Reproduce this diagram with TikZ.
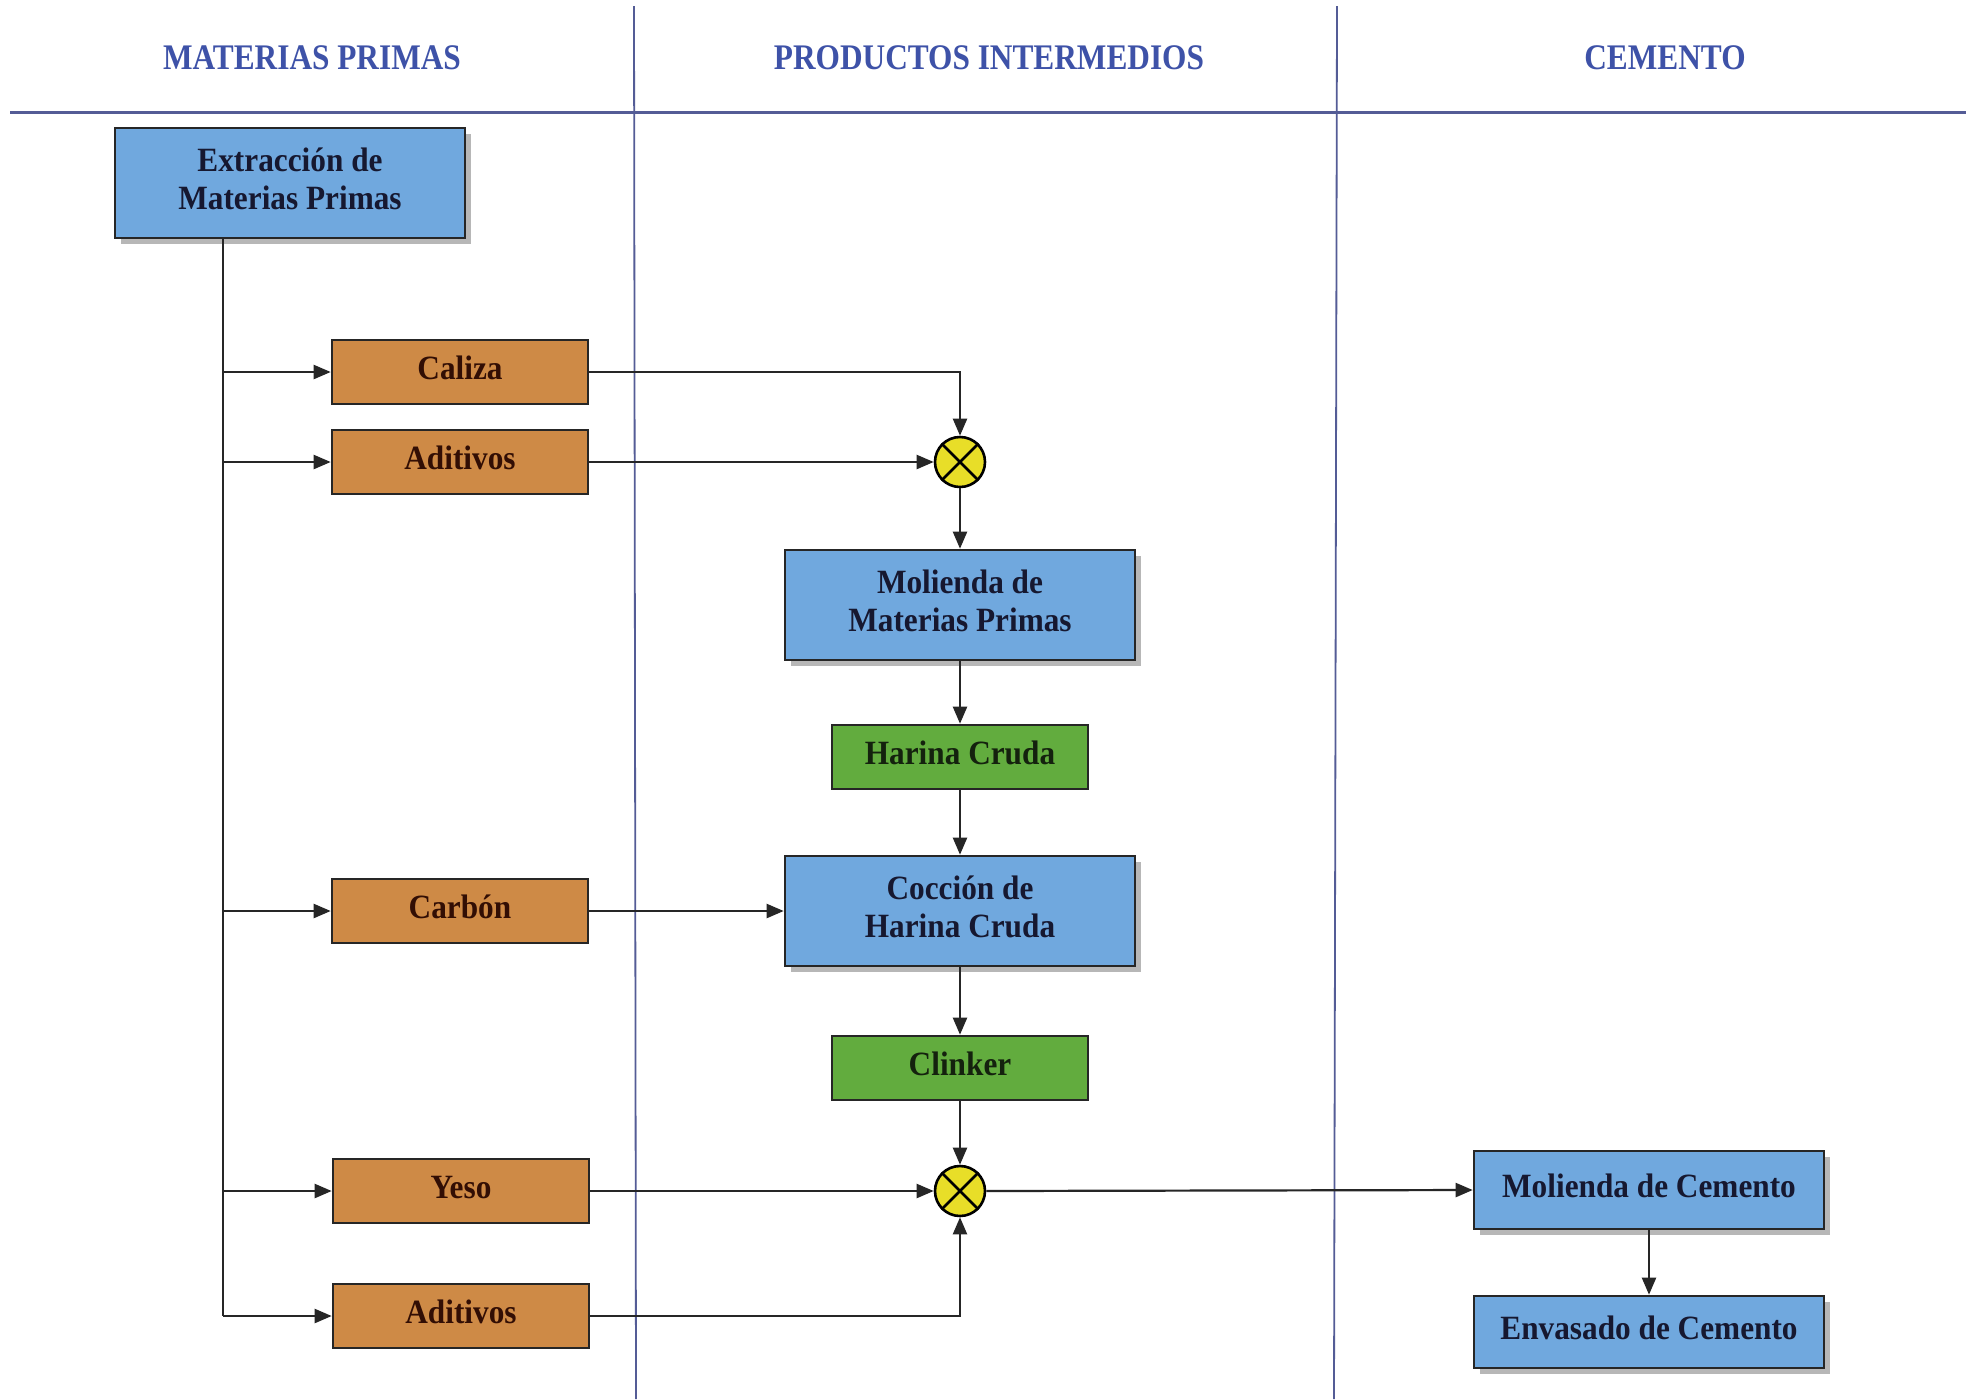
\documentclass[tikz,border=0pt]{standalone}
\usepackage{fontspec}
\setmainfont{Liberation Serif}
\usetikzlibrary{arrows.meta,shadows}
\definecolor{boxblue}{RGB}{112,168,222}
\definecolor{boxorange}{RGB}{206,138,70}
\definecolor{boxgreen}{RGB}{98,172,62}
\definecolor{jyellow}{RGB}{232,222,40}
\definecolor{headblue}{RGB}{62,82,168}
\definecolor{laneline}{RGB}{84,92,150}
\definecolor{navytext}{RGB}{22,24,48}
\definecolor{browntext}{RGB}{50,14,4}
\definecolor{greentext}{RGB}{20,34,14}
\newcommand{\sqz}[1]{\scalebox{0.92}[1]{\begin{tabular}{@{}c@{}}#1\end{tabular}}}
\newcommand{\hsqz}[1]{\scalebox{0.87}[1]{#1}}
\begin{document}
\begin{tikzpicture}[x=0.5pt,y=-0.5pt,
  boxbase/.style={draw=black!85,line width=1.3pt,inner sep=0pt,align=center,
    font=\fontsize{17}{19}\selectfont\bfseries},
  bluebox/.style={boxbase,fill=boxblue,text=navytext,minimum width=175pt,minimum height=55pt,
    drop shadow={shadow xshift=3pt,shadow yshift=-3pt,fill=gray!70,opacity=0.8}},
  orangebox/.style={boxbase,fill=boxorange,text=browntext,minimum width=128pt,minimum height=32pt},
  greenbox/.style={boxbase,fill=boxgreen,text=greentext,minimum width=128pt,minimum height=32pt},
  junction/.style={circle,draw=black,line width=1.3pt,fill=jyellow,minimum size=25pt,inner sep=0pt},
  head/.style={text=headblue,font=\fontsize{18}{20}\selectfont\bfseries},
  lane/.style={draw=laneline,line width=0.9pt},
  arr/.style={draw=black!85,line width=1.1pt,-{Triangle[length=8.5pt,width=7pt]}},
  plain/.style={draw=black!85,line width=1.1pt}
]
\useasboundingbox (0,0) rectangle (1966,1399);
\fill[white] (0,0) rectangle (1966,1399);

% lanes
\coordinate (v1t) at (634,6);
\coordinate (v1b) at (636,1399);
\coordinate (v2t) at (1337,6);
\coordinate (v2b) at (1334,1399);
\coordinate (hl) at (10,112);
\coordinate (hr) at (1966,112);
\draw[lane] (v1t) -- (v1b);
\draw[lane] (v2t) -- (v2b);
\draw[lane,line width=1.5pt] (hl) -- (hr);

% headers
\node[head] (h1) at (312,58) {\hsqz{MATERIAS PRIMAS}};
\node[head] (h2) at (989,58) {\hsqz{PRODUCTOS INTERMEDIOS}};
\node[head] (h3) at (1665,58) {\hsqz{CEMENTO}};

% nodes
\node[bluebox] (ext) at (290,183) {\sqz{Extracción de\\Materias Primas}};
\node[orangebox] (cal) at (460,372) {\sqz{Caliza}};
\node[orangebox] (adi1) at (460,462) {\sqz{Aditivos}};
\node[orangebox] (car) at (460,911) {\sqz{Carbón}};
\node[orangebox] (yes) at (461,1191) {\sqz{Yeso}};
\node[orangebox] (adi2) at (461,1316) {\sqz{Aditivos}};

\node[junction] (j1) at (960,462) {};
\draw[line width=1.3pt] (j1.north east) -- (j1.south west) (j1.north west) -- (j1.south east);
\node[bluebox] (mmp) at (960,605) {\sqz{Molienda de\\Materias Primas}};
\node[greenbox] (har) at (960,757) {\sqz{Harina Cruda}};
\node[bluebox] (coc) at (960,911) {\sqz{Cocción de\\Harina Cruda}};
\node[greenbox] (cli) at (960,1068) {\sqz{Clinker}};
\node[junction] (j2) at (960,1191) {};
\draw[line width=1.3pt] (j2.north east) -- (j2.south west) (j2.north west) -- (j2.south east);

\node[bluebox,minimum height=39pt] (mce) at (1649,1190) {\sqz{Molienda de Cemento}};
\node[bluebox,minimum height=36pt] (env) at (1649,1332) {\sqz{Envasado de Cemento}};

% trunk
\coordinate (tt) at (223,238);
\draw[plain] (tt) -- (tt |- adi2.west);
\draw[arr] (tt |- cal.west) -- (cal.west);
\draw[arr] (tt |- adi1.west) -- (adi1.west);
\draw[arr] (tt |- car.west) -- (car.west);
\draw[arr] (tt |- yes.west) -- (yes.west);
\draw[arr] (tt |- adi2.west) -- (adi2.west);

% flows
\draw[arr] (cal.east) -| (j1.north);
\draw[arr] (adi1.east) -- (j1.west);
\draw[arr] (j1.south) -- (mmp.north);
\draw[arr] (mmp.south) -- (har.north);
\draw[arr] (har.south) -- (coc.north);
\draw[arr] (car.east) -- (coc.west);
\draw[arr] (coc.south) -- (cli.north);
\draw[arr] (cli.south) -- (j2.north);
\draw[arr] (yes.east) -- (j2.west);
\draw[arr] (adi2.east) -| (j2.south);
\draw[arr] (j2.east) -- (mce.west);
\draw[arr] (mce.south) -- (env.north);
\end{tikzpicture}
\end{document}
